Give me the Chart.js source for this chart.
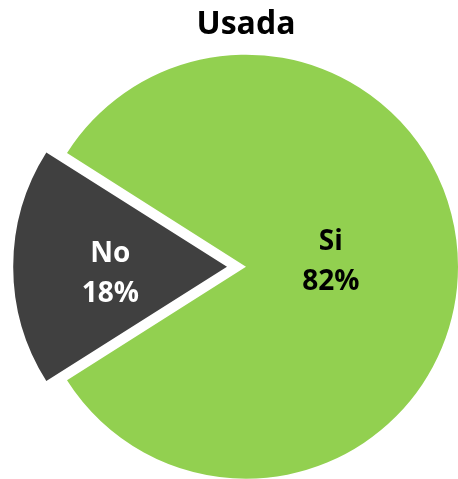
<!DOCTYPE html>
<html>
<head>
<meta charset="utf-8">
<script src="https://cdn.jsdelivr.net/npm/chart.js@4"></script>
<style>
  html, body { margin: 0; padding: 0; background: #fff; }
  #wrap { width: 458px; height: 479px; }
</style>
</head>
<body>
<div id="wrap"><canvas id="pie" width="458" height="479"></canvas></div>
<script>
// data
const categories = ['Si', 'No'];
const values = [82, 18];
const sliceColors = ['#92D050', '#404040'];
const labelColors = ['#000000', '#ffffff'];
const labelDist = [0.40, 0.55]; // fraction of radius from slice tip
const labelNudgeY = [-5, 7];

// draws "Si / 82%" style labels inside each slice
const sliceLabels = {
    id: 'sliceLabels',
    afterDatasetsDraw(chart) {
        const ctx = chart.ctx;
        const meta = chart.getDatasetMeta(0);
        const total = values.reduce((a, b) => a + b, 0);
        ctx.save();
        ctx.font = 'bold 28px "Open Sans", sans-serif';
        ctx.textAlign = 'center';
        ctx.textBaseline = 'middle';
        meta.data.forEach((arc, i) => {
            const p = arc.getProps(['x', 'y', 'startAngle', 'endAngle', 'outerRadius'], true);
            const mid = (p.startAngle + p.endAngle) / 2;
            // arc offset is drawn at a quarter of its value in v4
            const off = (arc.options.offset || 0) / 4;
            const d = off + p.outerRadius * labelDist[i];
            const cx = p.x + Math.cos(mid) * d;
            const cy = p.y + Math.sin(mid) * d + labelNudgeY[i];
            const pct = Math.round(values[i] / total * 100) + '%';
            ctx.fillStyle = labelColors[i];
            ctx.fillText(categories[i], cx, cy - 20);
            ctx.fillText(pct, cx, cy + 20);
        });
        ctx.restore();
    }
};

const ctx = document.getElementById('pie').getContext('2d');
new Chart(ctx, {
    type: 'pie',
    data: {
        labels: categories,
        datasets: [{
            data: values,
            backgroundColor: sliceColors,
            borderWidth: 0,
            offset: [0, 76],
            radius: 212
        }]
    },
    options: {
        responsive: false,
        animation: false,
        rotation: -57.6,
        layout: { padding: { top: 4, left: 34, right: 0, bottom: 0 } },
        plugins: {
            legend: { display: false },
            tooltip: { enabled: false },
            title: {
                display: true,
                text: 'Usada',
                color: '#000',
                font: { family: '"Open Sans", sans-serif', size: 32, weight: 'bold' },
                padding: { top: 2, bottom: 10 }
            }
        }
    },
    plugins: [sliceLabels]
});
</script>
</body>
</html>
